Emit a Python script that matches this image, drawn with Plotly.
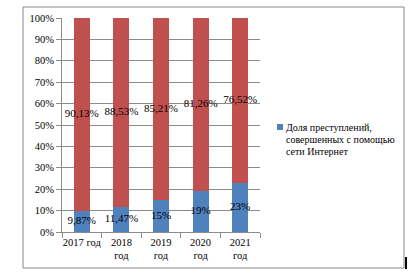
import plotly.graph_objects as go

years = ["2017 год", "2018<br>год", "2019<br>год", "2020<br>год", "2021<br>год"]
internet_share = [9.87, 11.47, 15, 19, 23]
other_share = [90.13, 88.53, 85.21, 81.26, 76.52]
internet_labels = ["9,87%", "11,47%", "15%", "19%", "23%"]
other_labels = ["90,13%", "88,53%", "85,21%", "81,26%", "76,52%"]
y_ticks = [0, 10, 20, 30, 40, 50, 60, 70, 80, 90, 100]
legend_lines = ["Доля преступлений,", "совершенных с помощью", "сети Интернет"]

BLUE = "#4F81BD"
RED = "#C0504D"
GRID = "#8C8C8C"
FONT = "Liberation Serif, Times New Roman, serif"

# normalise to 100% stacked like the original
totals = [a + b for a, b in zip(internet_share, other_share)]
blue_n = [a / t * 100 for a, t in zip(internet_share, totals)]
red_n = [b / t * 100 for b, t in zip(other_share, totals)]

fig = go.Figure()
fig.add_bar(x=years, y=blue_n, marker_color=BLUE, marker_line_width=0,
            name=" ".join(legend_lines), showlegend=False)
fig.add_bar(x=years, y=red_n, marker_color=RED, marker_line_width=0,
            showlegend=False)
fig.add_scatter(x=years, y=[b / 2 for b in blue_n], mode="text",
                text=internet_labels, textfont=dict(family=FONT, size=11, color="black"),
                showlegend=False, hoverinfo="skip")
fig.add_scatter(x=years, y=[b + r / 2 for b, r in zip(blue_n, red_n)], mode="text",
                text=other_labels, textfont=dict(family=FONT, size=11, color="black"),
                showlegend=False, hoverinfo="skip")

fig.update_layout(
    width=408, height=279,
    margin=dict(l=62, r=148, t=18, b=47),
    barmode="stack", bargap=0.596,
    plot_bgcolor="white", paper_bgcolor="white",
    font=dict(family=FONT, size=10.5, color="black"),
)
fig.update_yaxes(range=[0, 100], tickvals=y_ticks,
                 ticktext=[f"{v}%" for v in y_ticks],
                 showgrid=True, gridcolor=GRID, gridwidth=1,
                 showline=True, linecolor=GRID, linewidth=1,
                 ticks="outside", ticklen=5, tickcolor=GRID,
                 zeroline=False, fixedrange=True, automargin=False)
fig.update_xaxes(showline=True, linecolor=GRID, linewidth=1,
                 ticks="outside", ticklen=5, tickcolor=GRID,
                 tickson="boundaries", showgrid=False, fixedrange=True,
                 tickangle=0, automargin=False)

# outer chart border
fig.add_shape(type="rect", xref="paper", yref="paper",
              x0=(23 - 62) / 198, x1=(404 - 62) / 198,
              y0=(232 - 268) / 214, y1=(232 - 7) / 214,
              line=dict(color="#888888", width=1), layer="below")
# small dark mark at the bottom-right corner of the frame
fig.add_shape(type="rect", xref="paper", yref="paper",
              x0=(405 - 62) / 198, x1=(407 - 62) / 198,
              y0=(232 - 269) / 214, y1=(232 - 257) / 214,
              fillcolor="black", line_width=0)

# manual legend
lx = (277 - 62) / 198
fig.add_shape(type="rect", xref="paper", yref="paper",
              x0=lx, x1=lx + 6 / 198,
              y0=(232 - 130) / 214, y1=(232 - 124) / 214,
              fillcolor=BLUE, line_width=0)
for i, line in enumerate(legend_lines):
    fig.add_annotation(xref="paper", yref="paper",
                       x=(284 - 62) / 198, y=(232 - (128 + 11.7 * i)) / 214,
                       xanchor="left", yanchor="middle", showarrow=False,
                       text=line, font=dict(family=FONT, size=10, color="black"))

fig.write_html("out.html")
